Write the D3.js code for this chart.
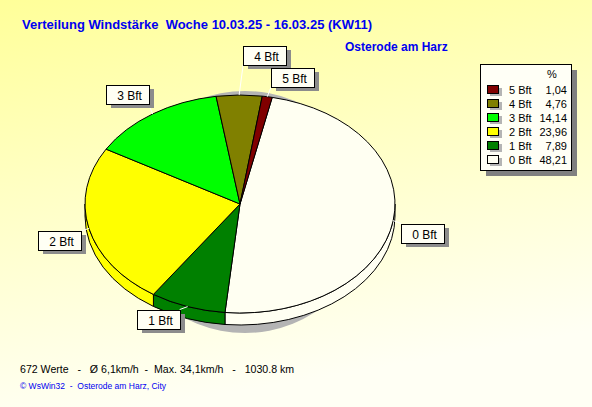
<!DOCTYPE html>
<html>
<head>
<meta charset="utf-8">
<script src="https://cdn.jsdelivr.net/npm/d3@7"></script>
<style>
  body { margin: 0; padding: 0; }
  svg { display: block; font-family: "Liberation Sans", Arial, sans-serif; }
  text { white-space: pre; }
</style>
</head>
<body>
<div id="chart"></div>
<script>
// data
var categories = ["0 Bft", "1 Bft", "2 Bft", "3 Bft", "4 Bft", "5 Bft"];
var percents = [48.21, 7.89, 23.96, 14.14, 4.76, 1.04];
var sliceColors = ["#fffff2", "#008000", "#ffff00", "#00ff00", "#808000", "#800000"];
var titleText = "Verteilung Windstärke  Woche 10.03.25 - 16.03.25 (KW11)";
var stationText = "Osterode am Harz";
var footerText = "672 Werte   -   Ø 6,1km/h  -  Max. 34,1km/h   -   1030.8 km";
var creditText = "© WsWin32  -  Osterode am Harz, City";

var width = 592;
var height = 407;
var svg = d3.select('#chart')
    .append("svg")
    .attr("width", width)
    .attr("height", height);

// background gradient
var defs = svg.append("defs");
var bg = defs.append("linearGradient")
    .attr("id", "bg")
    .attr("x1", "0").attr("y1", "0")
    .attr("x2", "0.25").attr("y2", "1");
bg.append("stop").attr("offset", "0").attr("stop-color", "#ffff99");
bg.append("stop").attr("offset", "0.45").attr("stop-color", "#ffffc4");
bg.append("stop").attr("offset", "1").attr("stop-color", "#fffff4");
svg.append("rect")
    .attr("width", width)
    .attr("height", height)
    .attr("fill", "url(#bg)");

// titles
svg.append("text")
    .attr("x", 22).attr("y", 29)
    .attr("font-size", 13).attr("font-weight", "bold")
    .attr("fill", "#0000f0")
    .text(titleText);
svg.append("text")
    .attr("x", 345).attr("y", 51)
    .attr("font-size", 12).attr("font-weight", "bold")
    .attr("fill", "#0000f0")
    .text(stationText);

// pie geometry
var cx = 240, cy = 204, rx = 155, ry = 109, depth = 12;
var startAngle = 12 * Math.PI / 180;
var pie = d3.pie()
    .sort(null)
    .value(function (d) { return d; })
    .startAngle(startAngle)
    .endAngle(startAngle + 2 * Math.PI);
var arcs = pie(percents);

function pt(a, dz) {
    return [cx + rx * Math.sin(a), cy - ry * Math.cos(a) + (dz || 0)];
}

// shadow
svg.append("ellipse")
    .attr("cx", cx + 5).attr("cy", cy + 8)
    .attr("rx", 125).attr("ry", ry + 12)
    .attr("fill", "#b4b4b4");

// sides (front half only)
var sideGroup = svg.append("g").classed("sides", true);
arcs.forEach(function (d, i) {
    var a = Math.max(d.startAngle, Math.PI / 2);
    var b = Math.min(d.endAngle, 3 * Math.PI / 2);
    if (b <= a) return;
    var p0 = pt(a, 0), p1 = pt(b, 0), p2 = pt(b, depth), p3 = pt(a, depth);
    var path = "M" + p0 + " A" + rx + "," + ry + " 0 0 1 " + p1 +
        " L" + p2 + " A" + rx + "," + ry + " 0 0 0 " + p3 + " Z";
    sideGroup.append("path")
        .attr("d", path)
        .attr("fill", sliceColors[i])
        .attr("stroke", "#000")
        .attr("stroke-width", 1);
});

// top faces
var arc = d3.arc().innerRadius(0).outerRadius(rx);
var topGroup = svg.append("g")
    .attr("transform", "translate(" + cx + "," + cy + ") scale(1," + (ry / rx) + ")");
topGroup.selectAll("path")
    .data(arcs)
    .enter()
    .append("path")
    .attr("d", arc)
    .attr("fill", function (d, i) { return sliceColors[i]; })
    .attr("stroke", "#000")
    .attr("stroke-width", 1)
    .attr("vector-effect", "non-scaling-stroke");

// labels
var boxW = 43, boxH = 19;
var labels = arcs.map(function (d, i) {
    var mid = (d.startAngle + d.endAngle) / 2;
    var anchor = pt(mid, 0);
    var upper = Math.cos(mid) > 0;
    var right = Math.sin(mid) >= -0.1;
    var gap = upper ? 4 : 8;
    var x0 = right ? anchor[0] + gap : anchor[0] - gap - boxW;
    var y0 = upper ? anchor[1] - 10 - boxH : anchor[1] + 3;
    return { name: categories[i], anchor: anchor, x: x0, y: y0 };
});
// push overlapping labels upward
for (var k = labels.length - 1; k >= 0; k--) {
    for (var j = labels.length - 1; j > k; j--) {
        var a1 = labels[k], b1 = labels[j];
        var overlapX = a1.x < b1.x + boxW + 4 && b1.x < a1.x + boxW + 4;
        var overlapY = a1.y < b1.y + boxH + 2 && b1.y < a1.y + boxH + 2;
        if (overlapX && overlapY) a1.y = b1.y - boxH - 3;
    }
}
var labelGroup = svg.append("g").classed("labels", true);
labels.forEach(function (l) {
    var nx = Math.max(l.x, Math.min(l.anchor[0], l.x + boxW));
    var ny = Math.max(l.y, Math.min(l.anchor[1], l.y + boxH));
    labelGroup.append("line")
        .attr("x1", l.anchor[0]).attr("y1", l.anchor[1])
        .attr("x2", nx).attr("y2", ny)
        .attr("stroke", "#fff").attr("stroke-width", 1);
});
var lab = labelGroup.selectAll(".lab")
    .data(labels)
    .enter()
    .append("g")
    .classed("lab", true)
    .attr("transform", function (d) { return "translate(" + Math.round(d.x) + "," + Math.round(d.y) + ")"; });
lab.append("rect")
    .attr("x", 5).attr("y", 4)
    .attr("width", boxW).attr("height", boxH)
    .attr("fill", "#8c8c8c");
lab.append("rect")
    .attr("x", 0.5).attr("y", 0.5)
    .attr("width", boxW).attr("height", boxH)
    .attr("fill", "#fffff4")
    .attr("stroke", "#000");
lab.append("text")
    .attr("x", boxW / 2 + 2).attr("y", 14.5)
    .attr("text-anchor", "middle")
    .attr("font-size", 12)
    .attr("fill", "#000")
    .text(function (d) { return d.name; });

// legend
var legX = 480, legY = 64, legW = 91, legH = 106;
var legend = svg.append("g").classed("legend", true);
legend.append("rect")
    .attr("x", legX + 6).attr("y", legY + 6)
    .attr("width", legW).attr("height", legH)
    .attr("fill", "#808080");
legend.append("rect")
    .attr("x", legX + 0.5).attr("y", legY + 0.5)
    .attr("width", legW).attr("height", legH)
    .attr("fill", "#fffff6")
    .attr("stroke", "#000");
legend.append("text")
    .attr("x", 552).attr("y", legY + 14)
    .attr("text-anchor", "middle")
    .attr("font-size", 11)
    .text("%");
var fmt = function (v) { return d3.format(".2f")(v).replace(".", ","); };
var legendRows = d3.range(categories.length).reverse();
var rowY = d3.scalePoint()
    .domain(legendRows)
    .range([legY + 30, legY + 100]);
var rows = legend.selectAll(".row")
    .data(legendRows)
    .enter()
    .append("g")
    .classed("row", true)
    .attr("transform", function (d) { return "translate(0," + rowY(d) + ")"; });
rows.append("rect")
    .attr("x", 490).attr("y", -6)
    .attr("width", 12).attr("height", 8)
    .attr("fill", "#b4b4b4");
rows.append("rect")
    .attr("x", 487.5).attr("y", -8.5)
    .attr("width", 11).attr("height", 8)
    .attr("fill", function (d) { return sliceColors[d]; })
    .attr("stroke", "#000");
rows.append("text")
    .attr("x", 509).attr("y", 0)
    .attr("font-size", 11)
    .text(function (d) { return categories[d]; });
rows.append("text")
    .attr("x", 567).attr("y", 0)
    .attr("text-anchor", "end")
    .attr("font-size", 11)
    .text(function (d) { return fmt(percents[d]); });

// footer
svg.append("text")
    .attr("x", 20).attr("y", 373)
    .attr("font-size", 10.6)
    .attr("fill", "#000")
    .text(footerText);
svg.append("text")
    .attr("x", 20).attr("y", 389)
    .attr("font-size", 8.5)
    .attr("fill", "#0000f0")
    .text(creditText);
</script>
</body>
</html>
